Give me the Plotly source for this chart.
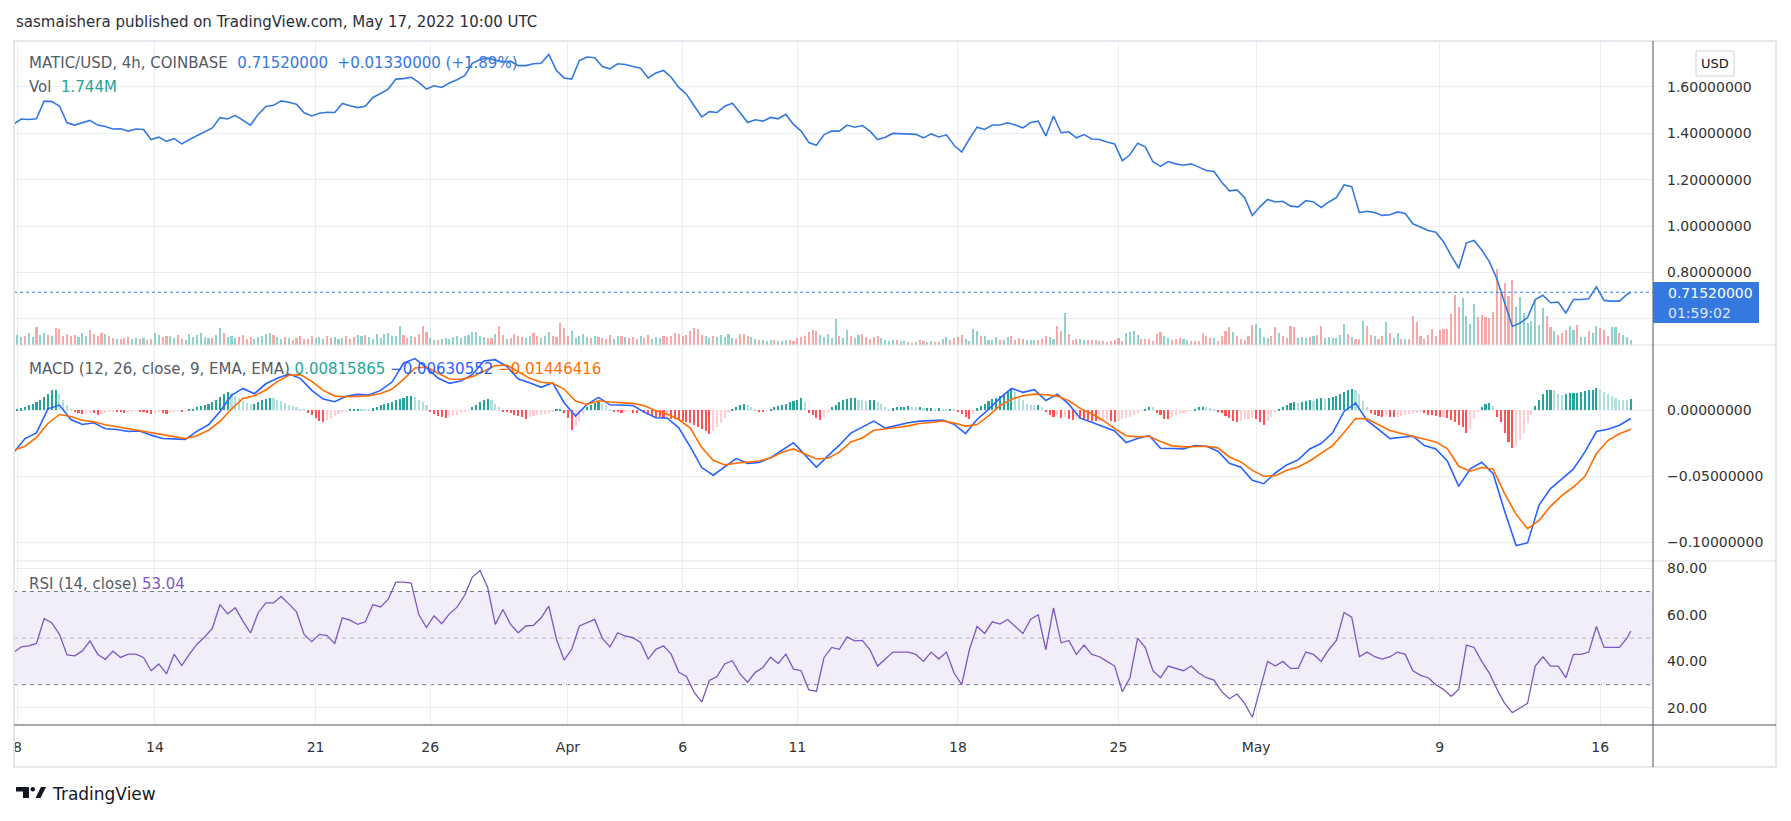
import pandas as pd
import plotly.graph_objects as go
from plotly.subplots import make_subplots

# ---------------- data ----------------
# MATIC/USD close, every 8 hours from 2022-03-07 20:00 UTC, then the last 4h bar
PRICE_8H = [
    1.438, 1.461, 1.459, 1.462, 1.538, 1.536, 1.517, 1.445, 1.435, 1.445,
    1.455, 1.435, 1.429, 1.418, 1.419, 1.409, 1.418, 1.416, 1.373, 1.383,
    1.365, 1.377, 1.354, 1.373, 1.390, 1.409, 1.423, 1.467, 1.461, 1.477,
    1.455, 1.435, 1.481, 1.515, 1.520, 1.539, 1.533, 1.525, 1.488, 1.474,
    1.486, 1.490, 1.489, 1.528, 1.518, 1.510, 1.516, 1.554, 1.571, 1.590,
    1.633, 1.635, 1.641, 1.619, 1.590, 1.604, 1.597, 1.616, 1.630, 1.648,
    1.701, 1.717, 1.723, 1.716, 1.706, 1.710, 1.691, 1.691, 1.699, 1.701,
    1.739, 1.670, 1.638, 1.633, 1.713, 1.728, 1.725, 1.687, 1.677, 1.699,
    1.696, 1.687, 1.680, 1.638, 1.659, 1.670, 1.641, 1.597, 1.568, 1.518,
    1.470, 1.493, 1.489, 1.516, 1.529, 1.489, 1.446, 1.458, 1.452, 1.468,
    1.462, 1.481, 1.438, 1.409, 1.360, 1.348, 1.394, 1.409, 1.409, 1.435,
    1.426, 1.433, 1.409, 1.373, 1.383, 1.399, 1.398, 1.399, 1.395, 1.380,
    1.397, 1.384, 1.393, 1.348, 1.319, 1.375, 1.426, 1.416, 1.435, 1.435,
    1.445, 1.435, 1.423, 1.446, 1.452, 1.388, 1.474, 1.402, 1.406, 1.380,
    1.394, 1.375, 1.373, 1.362, 1.354, 1.281, 1.307, 1.357, 1.341, 1.277,
    1.257, 1.278, 1.268, 1.262, 1.268, 1.254, 1.239, 1.235, 1.189, 1.152,
    1.156, 1.122, 1.046, 1.083, 1.115, 1.104, 1.107, 1.086, 1.083, 1.110,
    1.104, 1.080, 1.104, 1.122, 1.177, 1.170, 1.058, 1.064, 1.058, 1.046,
    1.049, 1.061, 1.054, 1.010, 0.996, 0.981, 0.974, 0.933, 0.873, 0.818,
    0.928, 0.938, 0.897, 0.847, 0.771, 0.670, 0.568, 0.582, 0.606, 0.684,
    0.702, 0.670, 0.673, 0.626, 0.684, 0.684, 0.687, 0.739, 0.680, 0.677,
    0.677, 0.706,
]
PRICE_LAST = 0.7152
FIRST_TIME = "2022-03-07 20:00"
LAST_TIME = "2022-05-17 08:00"

# volume per 4h bar, millions
VOLUME_M = [
    3.5, 2.8, 3.2, 4.1, 2.9, 6.4, 3.4, 4.2, 3.6, 3.0,
    5.8, 5.6, 3.2, 4.0, 3.1, 3.6, 2.9, 4.2, 3.3, 5.2,
    3.9, 3.1, 4.1, 3.8, 3.3, 2.4, 2.0, 2.2, 2.3, 2.9,
    2.0, 2.5, 2.1, 2.6, 1.9, 2.2, 4.1, 3.5, 2.9, 3.2,
    3.3, 2.6, 3.4, 2.1, 1.8, 3.9, 2.8, 3.6, 4.3, 2.8,
    2.4, 2.6, 3.5, 5.8, 4.2, 2.7, 3.0, 2.4, 2.8, 3.5,
    2.2, 2.7, 2.1, 2.8, 3.3, 3.9, 4.3, 3.4, 2.9, 2.2,
    2.8, 2.5, 1.9, 2.6, 3.1, 2.2, 2.0, 3.0, 2.4, 2.7,
    2.1, 3.2, 2.4, 2.8, 2.0, 2.6, 3.1, 2.2, 2.9, 3.6,
    3.2, 3.4, 2.7, 2.1, 3.8, 2.5, 3.7, 4.1, 3.2, 3.0,
    6.7, 3.4, 2.6, 3.1, 2.9, 3.8, 6.7, 4.5, 2.3, 1.6,
    1.6, 2.0, 2.4, 2.1, 2.8, 3.0, 2.4, 3.1, 3.6, 4.5,
    4.4, 3.2, 2.8, 2.4, 2.6, 3.8, 6.7, 3.5, 2.0, 2.6,
    4.0, 3.3, 2.9, 2.4, 3.0, 4.2, 3.1, 2.6, 3.0, 4.6,
    3.3, 2.8, 7.7, 6.0, 3.1, 4.8, 2.6, 3.2, 3.8, 2.7,
    2.4, 3.2, 2.9, 2.6, 2.2, 3.5, 2.1, 3.0, 3.2, 2.8,
    2.5, 2.8, 2.2, 3.0, 2.6, 3.4, 2.1, 2.7, 2.4, 3.3,
    2.8, 3.1, 4.3, 4.0, 3.1, 3.6, 4.8, 5.8, 5.5, 3.5,
    3.3, 2.4, 3.2, 2.7, 3.5, 2.8, 3.7, 2.5, 2.2, 3.9,
    3.9, 3.3, 2.7, 2.1, 1.8, 1.9, 1.5, 1.9, 1.7, 1.5,
    1.3, 1.6, 1.8, 1.4, 2.6, 2.9, 3.3, 4.4, 5.2, 5.0,
    3.4, 2.9, 3.8, 2.6, 9.2, 3.1, 2.4, 5.1, 3.0, 2.6,
    3.6, 3.9, 2.8, 2.2, 2.9, 3.1, 2.6, 1.9, 1.5, 1.9,
    1.7, 1.4, 1.4, 0.9, 0.6, 0.9, 1.7, 1.4, 1.2, 1.4,
    1.0, 1.2, 2.0, 2.8, 1.8, 2.6, 2.8, 3.5, 2.0, 1.4,
    5.6, 4.9, 3.3, 3.0, 1.6, 1.8, 2.8, 1.7, 1.9, 2.7,
    3.0, 1.9, 2.4, 2.2, 1.6, 1.6, 1.7, 1.6, 2.2, 3.2,
    2.8, 2.1, 6.7, 4.9, 11.3, 3.9, 1.9, 2.1, 2.0, 1.8,
    1.8, 1.7, 1.6, 1.5, 1.5, 1.2, 1.4, 1.9, 2.3, 1.3,
    4.2, 4.4, 5.0, 3.4, 2.1, 2.0, 2.1, 1.4, 3.7, 4.5,
    3.3, 2.3, 1.8, 2.0, 2.6, 2.1, 1.8, 1.5, 1.4, 1.5,
    4.2, 3.0, 2.4, 2.6, 1.5, 3.1, 4.8, 6.3, 4.4, 3.3,
    2.1, 1.7, 3.0, 7.0, 7.4, 5.9, 2.7, 2.5, 3.2, 6.2,
    4.3, 3.0, 2.5, 6.5, 6.3, 2.5, 2.8, 2.4, 2.8, 3.0,
    3.6, 6.5, 2.5, 2.8, 2.3, 2.6, 3.5, 7.4, 4.0, 2.8,
    2.2, 2.2, 8.4, 6.5, 3.6, 3.3, 2.2, 3.2, 8.0, 4.2,
    2.3, 4.3, 2.1, 2.1, 2.2, 10.2, 8.1, 3.3, 2.0, 3.5,
    5.6, 3.1, 5.2, 5.5, 5.6,
    10.9, 17.4, 13.4, 16.5, 10.2, 7.3, 14.3, 9.9, 10.5, 9.9,
    9.3, 11.5, 26.4, 18.4, 21.5, 17.1, 22.7, 13.4, 16.6, 11.0,
    7.8, 8.5, 15.7, 7.0, 13.0, 10.1, 6.2, 4.9, 3.5, 4.1,
    5.2, 6.6, 5.2, 7.0, 2.9, 2.9, 4.9, 4.3, 6.6, 5.8,
    5.2, 3.1, 6.3, 6.4, 4.3, 3.5, 2.9, 1.744,
]
# bar direction per 4h bar (u = up / green, d = down / red)
BAR_DIR = (
    "uu du ud uu du dd dd dd uu ud "
    "dd du dd ud dd uu du dd uu dd "
    "uu dd uu uu uu ud uu du uu dd "
    "dd uu uu ud uu du dd dd dd uu "
    "ud du uu dd du ud uu uu uu uu "
    "ud du dd dd uu du uu uu uu uu "
    "uu ud du dd ud dd du ud du uu "
    "dd dd du uu uu du dd dd uu du "
    "dd du dd uu ud dd dd dd dd dd "
    "uu du uu uu dd dd uu du uu du "
    "uu dd dd dd dd uu uu ud uu du "
    "ud dd dd uu uu du ud du dd uu "
    "dd uu dd dd uu uu du uu ud uu "
    "dd dd uu ud dd uu dd ud dd uu "
    "dd du dd dd dd uu uu dd dd dd "
    "uu dd du ud dd dd du dd dd ud "
    "dd dd uu uu dd ud dd du uu du "
    "dd uu uu uu du dd ud du dd ud "
    "uu du dd dd dd dd dd dd dd uu "
    "uu dd dd dd dd dd uu uu uu uu "
    "dd ud dd uu du ud uu dd du ud "
    "uu u"
).replace(" ", "")

# MACD (12, 26, close, 9) – every 12 hours, ending on the last bar
MACD_12H = [
    -0.0323, -0.0215, -0.0172, 0.0010, 0.0038, -0.0071, -0.0109, -0.0096, -0.0141, -0.0146,
    -0.0162, -0.0157, -0.0189, -0.0215, -0.0217, -0.0222, -0.0159, -0.0111, -0.0010, 0.0111,
    0.0164, 0.0124, 0.0199, 0.0240, 0.0273, 0.0240, 0.0149, 0.0083, 0.0063, 0.0104,
    0.0119, 0.0114, 0.0149, 0.0212, 0.0354, 0.0389, 0.0321, 0.0242, 0.0202, 0.0220,
    0.0268, 0.0371, 0.0381, 0.0331, 0.0235, 0.0207, 0.0172, 0.0207, 0.0056, -0.0045,
    0.0043, 0.0096, 0.0040, 0.0038, 0.0035, -0.0015, -0.0058, -0.0061, -0.0134, -0.0278,
    -0.0434, -0.0492, -0.0429, -0.0366, -0.0402, -0.0396, -0.0359, -0.0303, -0.0247, -0.0338,
    -0.0432, -0.0346, -0.0265, -0.0174, -0.0126, -0.0083, -0.0136, -0.0114, -0.0096, -0.0083,
    -0.0081, -0.0076, -0.0106, -0.0177, -0.0071, 0.0005, 0.0091, 0.0164, 0.0134, 0.0154,
    0.0073, 0.0121, 0.0045, -0.0061, -0.0091, -0.0124, -0.0157, -0.0245, -0.0215, -0.0192,
    -0.0288, -0.0290, -0.0293, -0.0268, -0.0273, -0.0311, -0.0402, -0.0432, -0.0530, -0.0556,
    -0.0475, -0.0414, -0.0376, -0.0293, -0.0253, -0.0172, -0.0010, 0.0053, -0.0078, -0.0146,
    -0.0215, -0.0205, -0.0197, -0.0268, -0.0293, -0.0384, -0.0576, -0.0444, -0.0394, -0.0480,
    -0.0765, -0.1023, -0.1003, -0.0717, -0.0593, -0.0520, -0.0444, -0.0316, -0.0162, -0.0144,
    -0.0114, -0.00630552,
]
SIGNAL_12H = [
    -0.0303, -0.0273, -0.0207, -0.0101, -0.0033, -0.0048, -0.0076, -0.0088, -0.0111, -0.0126,
    -0.0141, -0.0152, -0.0167, -0.0182, -0.0199, -0.0215, -0.0194, -0.0152, -0.0086, 0.0008,
    0.0088, 0.0109, 0.0152, 0.0215, 0.0263, 0.0268, 0.0217, 0.0149, 0.0106, 0.0101,
    0.0104, 0.0109, 0.0126, 0.0159, 0.0232, 0.0318, 0.0326, 0.0283, 0.0235, 0.0232,
    0.0253, 0.0293, 0.0336, 0.0341, 0.0293, 0.0240, 0.0210, 0.0202, 0.0159, 0.0068,
    0.0043, 0.0071, 0.0061, 0.0056, 0.0051, 0.0033, -0.0005, -0.0030, -0.0071, -0.0136,
    -0.0283, -0.0379, -0.0414, -0.0402, -0.0391, -0.0384, -0.0361, -0.0318, -0.0293, -0.0328,
    -0.0369, -0.0364, -0.0318, -0.0240, -0.0210, -0.0152, -0.0139, -0.0131, -0.0119, -0.0101,
    -0.0093, -0.0081, -0.0098, -0.0121, -0.0109, -0.0043, 0.0033, 0.0083, 0.0109, 0.0121,
    0.0116, 0.0106, 0.0071, 0.0013, -0.0028, -0.0078, -0.0139, -0.0194, -0.0202, -0.0197,
    -0.0237, -0.0270, -0.0278, -0.0273, -0.0273, -0.0285, -0.0354, -0.0391, -0.0455, -0.0500,
    -0.0495, -0.0455, -0.0429, -0.0384, -0.0328, -0.0268, -0.0169, -0.0063, -0.0066, -0.0109,
    -0.0154, -0.0177, -0.0197, -0.0217, -0.0240, -0.0290, -0.0424, -0.0462, -0.0434, -0.0447,
    -0.0631, -0.0788, -0.0896, -0.0833, -0.0727, -0.0644, -0.0581, -0.0500, -0.0328, -0.0230,
    -0.0179, -0.01446416,
]
# MACD histogram per 4h bar
HIST_4H = [
    0.0010, 0.0015, 0.0025, 0.0035, 0.0045, 0.0060, 0.0080, 0.0100, 0.0125, 0.0150,
    0.0150, 0.0120, 0.0080, 0.0040, 0.0010,
    -0.0015, -0.0025, -0.0030, -0.0028, -0.0020, -0.0025, -0.0035, -0.0030, -0.0020, -0.0015,
    -0.0010, -0.0012, -0.0015, -0.0018, -0.0012, -0.0008, -0.0005, -0.0010, -0.0015, -0.0025,
    -0.0030, -0.0020, -0.0015, -0.0022, -0.0030, -0.0020, -0.0010, -0.0005, -0.0012, -0.0006,
    0.0005,
    0.0010, 0.0020, 0.0030, 0.0040, 0.0050, 0.0065, 0.0080, 0.0100, 0.0120, 0.0140,
    0.0130, 0.0110, 0.0090, 0.0070, 0.0055, 0.0045, 0.0050, 0.0060, 0.0075, 0.0085,
    0.0095, 0.0090, 0.0080, 0.0070, 0.0055, 0.0040, 0.0030, 0.0020, 0.0010, 0.0003,
    -0.0020, -0.0040, -0.0060, -0.0080, -0.0090, -0.0075, -0.0060, -0.0045, -0.0030, -0.0020,
    -0.0010,
    0.0005, 0.0010, 0.0012, 0.0010, 0.0008, 0.0005,
    0.0015, 0.0025, 0.0035, 0.0045, 0.0055, 0.0065, 0.0075, 0.0085, 0.0095, 0.0105,
    0.0110, 0.0100, 0.0080, 0.0060, 0.0035,
    -0.0015, -0.0030, -0.0045, -0.0055, -0.0060, -0.0055, -0.0045, -0.0035, -0.0025, -0.0015,
    -0.0005,
    0.0020, 0.0040, 0.0060, 0.0075, 0.0085, 0.0080, 0.0050, 0.0020,
    -0.0008, -0.0015, -0.0025, -0.0035, -0.0045, -0.0055, -0.0070, -0.0050, -0.0045, -0.0040,
    -0.0035, -0.0030, -0.0020, -0.0010, 0.0005,
    0.0008, -0.0020, -0.0060, -0.0150, -0.0120, -0.0080, -0.0030,
    0.0020, 0.0040, 0.0055, 0.0060, 0.0050, 0.0030, 0.0010,
    -0.0010, -0.0015, -0.0025, -0.0012, -0.0005, -0.0020, -0.0025, -0.0015, -0.0020, -0.0035,
    -0.0045,
    -0.0050, -0.0055, -0.0060, -0.0060, -0.0065, -0.0070, -0.0075, -0.0080, -0.0090, -0.0100,
    -0.0110, -0.0125, -0.0140, -0.0155, -0.0180, -0.0160, -0.0130, -0.0100, -0.0060, -0.0020,
    0.0010, 0.0025, 0.0040, 0.0045, 0.0035, 0.0020, 0.0005,
    -0.0010, -0.0015, -0.0005,
    0.0010, 0.0020, 0.0030, 0.0040, 0.0050, 0.0060, 0.0070, 0.0080, 0.0090, 0.0060,
    -0.0020, -0.0040, -0.0060, -0.0075, -0.0050, -0.0025,
    0.0020, 0.0040, 0.0060, 0.0075, 0.0085, 0.0090, 0.0090, 0.0080, 0.0075, 0.0070,
    0.0075, 0.0080, 0.0065, 0.0045,
    0.0020, 0.0010, 0.0015, 0.0025, 0.0025, 0.0025, 0.0030, 0.0025, 0.0020, 0.0025,
    0.0015, 0.0015, 0.0015, 0.0010, 0.0015, 0.0010, 0.0008, 0.0010, 0.0005,
    -0.0015, -0.0030, -0.0050, -0.0065, -0.0030,
    0.0015, 0.0030, 0.0050, 0.0070, 0.0085, 0.0095, 0.0105, 0.0120, 0.0140, 0.0160,
    0.0140, 0.0110, 0.0080, 0.0050, 0.0040, 0.0035, 0.0040, 0.0020,
    -0.0015, -0.0035, -0.0050, -0.0040, -0.0060, -0.0050, -0.0065, -0.0075, -0.0060, -0.0065,
    -0.0070, -0.0075, -0.0080, -0.0085, -0.0080, -0.0075, -0.0070, -0.0080, -0.0090, -0.0080,
    -0.0070, -0.0060, -0.0050, -0.0035, -0.0020, -0.0005,
    0.0010, 0.0025, 0.0020,
    -0.0020, -0.0040, -0.0065, -0.0070, -0.0055, -0.0040, -0.0030, -0.0025, -0.0015, -0.0005,
    0.0010, 0.0020, 0.0025, 0.0020, 0.0015, 0.0005,
    -0.0010, -0.0025, -0.0045, -0.0060, -0.0080, -0.0090, -0.0080, -0.0070, -0.0065, -0.0060,
    -0.0065, -0.0090, -0.0110, -0.0080, -0.0050, -0.0020,
    0.0010, 0.0025, 0.0040, 0.0055, 0.0060, 0.0055, 0.0060, 0.0070, 0.0075, 0.0070,
    0.0085, 0.0090, 0.0085, 0.0095, 0.0100, 0.0110, 0.0120, 0.0140, 0.0155, 0.0160,
    0.0150, 0.0120, 0.0070, 0.0020,
    -0.0020, -0.0035, -0.0045, -0.0050, -0.0045, -0.0050, -0.0055, -0.0050, -0.0045, -0.0040,
    -0.0030, -0.0025, -0.0020, -0.0015, -0.0025, -0.0035, -0.0040, -0.0045, -0.0050, -0.0050,
    -0.0060, -0.0075, -0.0090, -0.0110, -0.0130, -0.0170, -0.0140,
    -0.0070, -0.0010, 0.0025, 0.0045, 0.0055, 0.0030, -0.0050, -0.0090, -0.0175, -0.0240,
    -0.0285, -0.0270, -0.0225, -0.0175, -0.0100, -0.0040,
    0.0030, 0.0080, 0.0125, 0.0155, 0.0155, 0.0150, 0.0125, 0.0115, 0.0125, 0.0130,
    0.0130, 0.0130, 0.0135, 0.0145, 0.0150, 0.0155, 0.0170, 0.0155, 0.0140, 0.0125,
    0.0110, 0.0095, 0.0080, 0.0076, 0.0074, 0.00815865,
]
# RSI (14) every 8 hours from FIRST_TIME, then last bar
RSI_8H = [
    43.8, 46.2, 46.7, 47.7, 58.3, 56.6, 51.6, 42.8, 42.4, 44.5,
    48.8, 43.1, 40.9, 44.4, 41.7, 43.1, 43.1, 41.7, 36.0, 38.9,
    34.6, 43.1, 38.2, 43.1, 47.4, 50.5, 54.2, 64.4, 60.4, 63.0,
    57.3, 52.2, 60.9, 65.1, 65.1, 67.9, 64.7, 61.3, 51.6, 48.5,
    51.6, 51.1, 47.7, 58.7, 57.7, 55.9, 57.0, 64.4, 63.4, 66.7,
    74.0, 74.0, 73.6, 60.1, 54.5, 59.6, 56.2, 60.4, 63.3, 68.4,
    76.2, 79.0, 71.8, 55.9, 62.3, 55.9, 52.3, 55.2, 55.5, 58.7,
    63.7, 49.5, 40.6, 45.2, 55.2, 56.6, 58.0, 49.9, 46.2, 52.3,
    50.9, 50.2, 48.1, 41.0, 45.2, 46.7, 43.1, 35.3, 33.5, 26.8,
    22.6, 31.8, 33.5, 38.9, 40.3, 34.6, 31.1, 35.3, 37.4, 41.8,
    39.1, 43.1, 36.7, 36.0, 27.8, 27.2, 41.7, 46.0, 45.2, 50.5,
    48.8, 49.0, 45.0, 38.0, 41.0, 44.0, 44.0, 44.0, 43.0, 40.0,
    44.0, 41.0, 44.0, 35.0, 30.0, 45.0, 55.0, 52.0, 57.0, 56.0,
    58.0, 55.0, 52.0, 58.0, 60.0, 45.0, 63.0, 48.0, 49.0, 43.0,
    47.0, 43.0, 42.0, 40.0, 38.0, 27.0, 33.0, 50.0, 46.0, 36.0,
    33.0, 38.0, 37.0, 36.0, 38.0, 35.0, 33.0, 32.0, 27.0, 24.0,
    26.0, 22.0, 16.0, 28.0, 40.0, 38.0, 40.0, 37.0, 37.0, 44.0,
    43.0, 40.0, 45.0, 49.0, 61.0, 59.0, 42.0, 44.0, 42.0, 41.0,
    42.0, 44.0, 43.0, 36.0, 34.0, 33.0, 30.0, 28.0, 25.0, 28.0,
    47.0, 46.0, 40.0, 35.0, 28.0, 22.0, 18.0, 20.0, 22.0, 38.0,
    42.0, 38.0, 38.0, 33.0, 43.0, 43.0, 44.0, 55.0, 46.0, 46.0,
    46.0, 50.0,
]
RSI_LAST = 53.04

TICK_DATES = ["2022-03-08", "2022-03-14", "2022-03-21", "2022-03-26", "2022-04-01",
              "2022-04-06", "2022-04-11", "2022-04-18", "2022-04-25", "2022-05-01",
              "2022-05-09", "2022-05-16"]
TICK_TEXT = ["8", "14", "21", "26", "Apr", "6", "11", "18", "25", "May", "9", "16"]
PRICE_TICKS = [0.6, 0.8, 1.0, 1.2, 1.4, 1.6]
MACD_TICKS = [0.0, -0.05, -0.10]
RSI_TICKS = [20, 40, 60, 80]
RSI_LEVELS = [70, 50, 30]

# ---------------- layout constants ----------------
W, H = 1791, 821
L, R, T, B = 14, 1653, 41, 725
FONT = "DejaVu Sans"
BLUE_LINE = "#3478e0"
GRID = "#e9eef5"
SEP = "#e0e3eb"
DARK = "#50535e"


def px(x):
    return (x - L) / (R - L)


def py(y):
    return (B - y) / (B - T)


# ---------------- time axes ----------------
t8 = list(pd.date_range(FIRST_TIME, periods=len(PRICE_8H), freq="8h"))
price_x = t8 + [pd.Timestamp(LAST_TIME)]
price_y = PRICE_8H + [PRICE_LAST]
rsi_x = list(pd.date_range(FIRST_TIME, periods=len(RSI_8H), freq="8h")) + [pd.Timestamp(LAST_TIME)]
rsi_y = RSI_8H + [RSI_LAST]
t12 = pd.date_range(end=LAST_TIME, periods=len(MACD_12H), freq="12h")
tvol = pd.date_range(end=LAST_TIME, periods=len(VOLUME_M), freq="4h")
thist = pd.date_range(end=LAST_TIME, periods=len(HIST_4H), freq="4h")
BAR_W = 4 * 3600 * 1000 * 0.55

vol_colors = []
for i in range(len(VOLUME_M)):
    d = BAR_DIR[i] if i < len(BAR_DIR) else "u"
    vol_colors.append("rgba(38,166,154,0.5)" if d == "u" else "rgba(239,83,80,0.5)")

hist_colors = []
for i, h in enumerate(HIST_4H):
    prev = HIST_4H[i - 1] if i > 0 else h
    if h >= 0:
        hist_colors.append("#26a69a" if h >= prev else "#b2dfdb")
    else:
        hist_colors.append("#ff5252" if h < prev else "#ffcdd2")

# ---------------- figure ----------------
fig = make_subplots(rows=3, cols=1, shared_xaxes=True, vertical_spacing=0,
                    row_heights=[304, 216, 164],
                    specs=[[{"secondary_y": True}], [{}], [{}]])

fig.add_trace(go.Bar(x=tvol, y=VOLUME_M, width=BAR_W, marker=dict(color=vol_colors, line_width=0),
                     hoverinfo="skip"), row=1, col=1, secondary_y=False)
fig.add_trace(go.Scatter(x=price_x, y=price_y, mode="lines",
                         line=dict(color=BLUE_LINE, width=1.6)), row=1, col=1, secondary_y=True)

fig.add_trace(go.Bar(x=thist, y=HIST_4H, width=BAR_W, marker=dict(color=hist_colors, line_width=0)),
              row=2, col=1)
fig.add_trace(go.Scatter(x=t12, y=MACD_12H, mode="lines", line=dict(color="#2962ff", width=1.6)),
              row=2, col=1)
fig.add_trace(go.Scatter(x=t12, y=SIGNAL_12H, mode="lines", line=dict(color="#ff6d00", width=1.6)),
              row=2, col=1)

fig.add_trace(go.Scatter(x=rsi_x, y=rsi_y, mode="lines", line=dict(color="#7e57c2", width=1.3)),
              row=3, col=1)

x_range = ["2022-03-07 20:30", "2022-05-18 07:12"]
fig.update_xaxes(domain=[0, 1], range=x_range, tickvals=TICK_DATES, ticktext=TICK_TEXT, showgrid=True,
                 gridcolor=GRID, gridwidth=1, zeroline=False, showline=False, ticks="",
                 automargin=False, tickfont=dict(family=FONT, size=14, color="#333"))
fig.update_xaxes(showticklabels=False, row=1, col=1)
fig.update_xaxes(showticklabels=False, row=2, col=1)
fig.update_xaxes(showticklabels=True, ticklabelstandoff=12, row=3, col=1)

yax = dict(side="right", showgrid=True, gridcolor=GRID, gridwidth=1, zeroline=False, showline=False,
           ticks="", ticklabelstandoff=13, automargin=False,
           tickfont=dict(family=FONT, size=14, color="#333"))
# the price label that falls under the last-price tag is covered, so it is left blank
price_ticktext = ["" if v < PRICE_LAST else f"{v:.8f}" for v in PRICE_TICKS]
fig.update_yaxes(range=[0, 106], visible=False, showgrid=False, automargin=False,
                 row=1, col=1, secondary_y=False)
fig.update_yaxes(range=[0.488, 1.797], tickvals=PRICE_TICKS, ticktext=price_ticktext, **yax,
                 row=1, col=1, secondary_y=True)
fig.update_yaxes(range=[-0.114, 0.0492], tickvals=MACD_TICKS, tickformat=".8f", **yax, row=2, col=1)
fig.update_yaxes(range=[12.7, 83.1], tickvals=RSI_TICKS, tickformat=".2f", **yax, row=3, col=1)

shapes = []
# RSI band and levels
shapes.append(dict(type="rect", xref="x3 domain", yref="y4", x0=0, x1=1, y0=RSI_LEVELS[2], y1=RSI_LEVELS[0],
                   fillcolor="rgba(126,87,194,0.1)", line_width=0, layer="below"))
for lv in RSI_LEVELS:
    shapes.append(dict(type="line", xref="x3 domain", yref="y4", x0=0, x1=1, y0=lv, y1=lv,
                       line=dict(color="#787b86" if lv != 50 else "rgba(120,123,134,0.5)",
                                 width=1, dash="4px,4px"), layer="below"))
# last price dotted line
shapes.append(dict(type="line", xref="x domain", yref="y2", x0=0, x1=1, y0=PRICE_LAST, y1=PRICE_LAST,
                   line=dict(color=BLUE_LINE, width=1, dash="dot")))
# frame / separators
shapes.append(dict(type="rect", xref="paper", yref="paper", x0=px(14), x1=px(1776), y0=py(767), y1=py(41),
                   line=dict(color="#e6e7ec", width=2)))
for yy in (345, 561):
    shapes.append(dict(type="line", xref="paper", yref="paper", x0=px(14), x1=px(1776), y0=py(yy), y1=py(yy),
                       line=dict(color=SEP, width=1)))
shapes.append(dict(type="line", xref="paper", yref="paper", x0=px(1653), x1=px(1653), y0=py(767), y1=py(41),
                   line=dict(color=DARK, width=1)))
shapes.append(dict(type="line", xref="paper", yref="paper", x0=px(14), x1=px(1776), y0=py(725), y1=py(725),
                   line=dict(color=DARK, width=1)))
# price label box
shapes.append(dict(type="rect", xref="paper", yref="paper", x0=px(1653), x1=px(1759), y0=py(323), y1=py(282),
                   fillcolor=BLUE_LINE, line_width=0, layer="above"))
# USD box
shapes.append(dict(type="rect", xref="paper", yref="paper", x0=px(1696), x1=px(1734), y0=py(76), y1=py(51),
                   fillcolor="white", line=dict(color="#d1d4dc", width=1), layer="above"))
# TradingView logo glyph
LOGO = "#131722"
shapes.append(dict(type="rect", xref="paper", yref="paper", x0=px(16), x1=px(29), y0=py(791.5), y1=py(787),
                   fillcolor=LOGO, line_width=0))
shapes.append(dict(type="rect", xref="paper", yref="paper", x0=px(23), x1=px(29), y0=py(798), y1=py(787),
                   fillcolor=LOGO, line_width=0))
shapes.append(dict(type="circle", xref="paper", yref="paper", x0=px(30.5), x1=px(35), y0=py(791.5), y1=py(787),
                   fillcolor=LOGO, line_width=0))
shapes.append(dict(type="path", xref="paper", yref="paper",
                   path=f"M {px(35.5)},{py(798)} L {px(41)},{py(787)} L {px(46)},{py(787)} L {px(40.5)},{py(798)} Z",
                   fillcolor=LOGO, line_width=0))

NB = "\u00a0"
GRAY = "#555b66"
anns = []


def ann(x, y, text, size=15, color=GRAY, xanchor="left"):
    anns.append(dict(xref="paper", yref="paper", x=px(x), y=py(y), text=text, showarrow=False,
                     xanchor=xanchor, yanchor="middle", font=dict(family=FONT, size=size, color=color)))


ann(14, 22, "sasmaishera published on TradingView.com, May 17, 2022 10:00 UTC", size=15, color="#2a2e39")
ann(27, 63, "MATIC/USD, 4h, COINBASE" + NB * 2
    + f"<span style='color:{BLUE_LINE}'>{PRICE_LAST:.8f}</span>" + NB * 2
    + f"<span style='color:{BLUE_LINE}'>+0.01330000 (+1.89%)</span>")
ann(27, 87, "Vol" + NB * 2 + f"<span style='color:#26a69a'>{VOLUME_M[-1]:.3f}M</span>")
ann(27, 369, "MACD (12, 26, close, 9, EMA, EMA)" + NB
    + f"<span style='color:#26a69a'>{HIST_4H[-1]:.8f}</span>" + NB
    + f"<span style='color:#2962ff'>{MACD_12H[-1]:.8f}</span>".replace("-", "\u2212") + NB
    + f"<span style='color:#ff6d00'>{SIGNAL_12H[-1]:.8f}</span>".replace("-", "\u2212"))
ann(27, 584, "RSI (14, close)" + NB + f"<span style='color:#7e57c2'>{RSI_LAST:.2f}</span>")
ann(1666, 293, f"{PRICE_LAST:.8f}", size=14, color="white")
ann(1666, 313, "01:59:02", size=14, color="rgba(255,255,255,0.85)")
ann(1715, 63.5, "USD", size=13, color="#131722", xanchor="center")
ann(50, 794, "TradingView", size=17, color="#131722")

fig.update_layout(width=W, height=H, margin=dict(l=L, r=W - R, t=T, b=H - B, pad=0, autoexpand=False),
                  paper_bgcolor="white", plot_bgcolor="white", showlegend=False, bargap=0,
                  hovermode=False, shapes=shapes, annotations=anns,
                  font=dict(family=FONT, size=14, color="#333"))

fig.write_html("out.html", config={"displayModeBar": False},
               post_script="document.body.style.margin='0';document.body.style.overflow='hidden';")
